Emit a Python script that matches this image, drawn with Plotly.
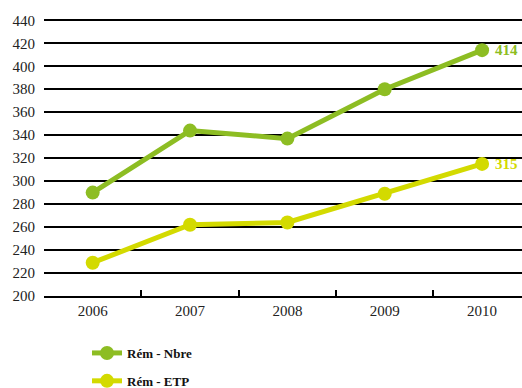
import plotly.graph_objects as go

years = ["2006", "2007", "2008", "2009", "2010"]
rem_nbre = [290, 344, 337, 380, 414]
rem_etp = [229, 262, 264, 289, 315]
y_ticks = list(range(200, 441, 20))

green = "#8dbd23"
yellow = "#d3da00"
font_fam = "Liberation Serif, DejaVu Serif, serif"

fig = go.Figure()
fig.add_trace(go.Scatter(x=years, y=rem_nbre, mode="lines+markers", name="<b>Rém - Nbre</b>",
                         line=dict(color=green, width=5), marker=dict(size=14, color=green),
                         legendgroup="a"))
fig.add_trace(go.Scatter(x=years, y=rem_etp, mode="lines+markers", name="<b>Rém - ETP</b>",
                         line=dict(color=yellow, width=5), marker=dict(size=14, color=yellow),
                         legendgroup="b"))

last = len(years) - 1
fig.add_annotation(x=last, y=rem_nbre[-1], xref="x", yref="y", text="<b>%d</b>" % rem_nbre[-1],
                   showarrow=False, xanchor="left", xshift=11,
                   font=dict(color=green, size=15, family=font_fam))
fig.add_annotation(x=last, y=rem_etp[-1], xref="x", yref="y", text="<b>%d</b>" % rem_etp[-1],
                   showarrow=False, xanchor="left", xshift=11,
                   font=dict(color=yellow, size=15, family=font_fam))

fig.update_layout(
    width=522, height=388,
    margin=dict(l=44, r=0, t=18, b=92, autoexpand=False),
    paper_bgcolor="white", plot_bgcolor="white",
    font=dict(family=font_fam, size=15, color="#222"),
    showlegend=True,
    legend=dict(x=0.09, y=-0.151, xanchor="left", yanchor="top", orientation="v",
                traceorder="grouped", tracegroupgap=8,
                font=dict(size=13, family=font_fam, color="#111"),
                bgcolor="rgba(0,0,0,0)"),
    xaxis=dict(type="category", range=[-0.5, 4.41], showgrid=False, showline=True,
               linecolor="black", linewidth=1.5, ticks="inside", tickson="boundaries",
               ticklen=6, tickwidth=1.5, tickcolor="black", zeroline=False,
               tickfont=dict(size=15), automargin=False),
    yaxis=dict(range=[200, 442], tickvals=y_ticks, showgrid=True, gridcolor="black",
               gridwidth=1.5, showline=False, zeroline=False, ticks="", ticklabelstandoff=8,
               tickfont=dict(size=15), automargin=False),
)
fig.write_html("out.html", config={"displayModeBar": False},
               post_script="document.body.style.margin='0';document.body.style.padding='0';")
